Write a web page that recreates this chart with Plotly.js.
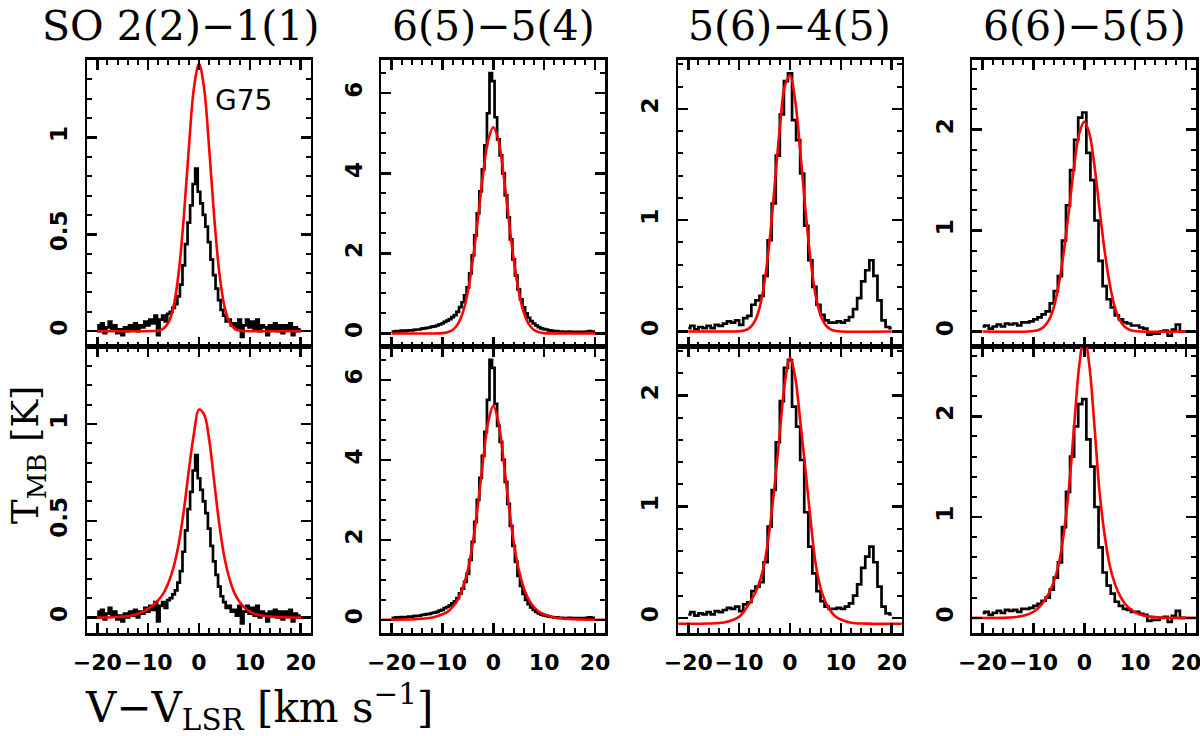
<!DOCTYPE html>
<html><head><meta charset="utf-8">
<script src="https://cdn.plot.ly/plotly-3.0.1.min.js"></script>
<style>html,body{margin:0;padding:0;background:#fff}#chart{width:1200px;height:736px}</style>
</head><body><div id="chart"></div>
<script>
// ---------------- DATA ----------------
const lineTitles = ['SO 2(2)\u22121(1)', '6(5)\u22125(4)', '5(6)\u22124(5)', '6(6)\u22125(5)'];
const sourceName = 'G75';
const xTickValues = [-20, -10, 0, 10, 20];
const xTickLabels = ['\u221220', '\u221210', '0', '10', '20'];

// observed spectra: first channel velocity, channel width, brightness values (K)
const spec1Start = -20, spec1Width = 0.5;
const spec1T = [0.03,0.00,0.04,-0.01,0.02,0.05,0.01,0.03,-0.01,0.01,
  -0.02,0.02,0.00,0.03,0.01,0.04,0.00,0.03,0.02,0.05,
  0.03,0.06,0.04,0.08,-0.02,0.06,0.08,0.05,0.09,0.10,
  0.12,0.14,0.18,0.24,0.34,0.45,0.56,0.65,0.76,0.84,
  0.72,0.66,0.60,0.54,0.46,0.37,0.29,0.22,0.16,0.11,
  0.08,0.05,0.06,0.03,0.04,0.01,0.06,-0.03,0.03,0.06,
  0.02,0.05,0.01,0.06,0.00,0.03,0.02,-0.02,0.03,0.01,
  0.04,0.00,0.03,-0.01,0.03,0.01,0.04,-0.02,0.02,0.00,0.01];

const spec2Start = -20, spec2Width = 0.5;
const spec2T = [0.05,0.04,0.06,0.05,0.07,0.06,0.07,0.08,0.08,0.09,
  0.10,0.10,0.12,0.13,0.14,0.15,0.17,0.18,0.20,0.23,
  0.25,0.29,0.32,0.36,0.41,0.46,0.54,0.66,0.78,0.95,
  1.15,1.50,1.95,2.45,3.00,3.55,4.10,4.70,5.50,6.50,
  6.30,5.40,4.85,4.45,4.00,3.45,2.90,2.35,1.85,1.45,
  1.10,0.85,0.65,0.50,0.39,0.31,0.25,0.20,0.16,0.13,
  0.11,0.10,0.08,0.07,0.06,0.06,0.05,0.05,0.04,0.04,
  0.05,0.03,0.04,0.03,0.04,0.03,0.04,0.05,0.06,0.05,0.04];

const spec3Start = -20, spec3Width = 0.8;
const spec3T = [0.03,0.05,0.02,0.04,0.03,0.05,0.03,0.06,0.05,0.07,
  0.09,0.08,0.10,0.06,0.12,0.14,0.24,0.28,0.32,0.50,
  0.82,1.15,1.58,1.95,2.25,2.32,1.90,1.72,1.42,0.95,
  0.64,0.40,0.24,0.15,0.10,0.08,0.08,0.09,0.08,0.10,
  0.13,0.20,0.30,0.45,0.55,0.64,0.50,0.28,0.10,0.04,0.03];

const spec4Start = -20, spec4Width = 0.8;
const spec4T = [0.05,0.06,0.03,0.05,0.07,0.05,0.08,0.07,0.08,0.06,
  0.09,0.09,0.10,0.12,0.14,0.17,0.20,0.28,0.40,0.55,
  0.90,1.25,1.60,1.90,2.12,2.17,1.77,1.50,1.10,0.70,
  0.45,0.32,0.24,0.16,0.12,0.09,0.08,0.06,0.06,0.04,
  0.03,-0.03,-0.02,-0.02,0.00,0.01,-0.04,0.02,0.07,0.00,0.00];

// model curves (red), top row
const fitTop1V = [-20,-12,-10,-9,-8,-7,-6,-5,-4,-3,-2,-1,0,1,2,3,4,5,6,7,8,9,10,12,20];
const fitTop1T = [0,0,0,0.001,0.003,0.013,0.045,0.128,0.301,0.586,0.943,1.255,1.38,1.255,0.943,0.586,0.301,0.128,0.045,0.013,0.003,0.001,0,0,0];
const fitTop2V = [-20,-12,-10,-9,-8,-7,-6,-5,-4,-3,-2,-1,0,1,2,3,4,5,6,7,8,9,10,12,20];
const fitTop2T = [0,0,0.009,0.03,0.087,0.227,0.52,1.05,1.86,2.9,3.99,4.83,5.15,4.83,3.99,2.9,1.86,1.05,0.52,0.227,0.087,0.03,0.009,0,0];
const fitTop3V = [-20,-11,-10,-9,-8,-7,-6,-5,-4,-3,-2,-1,0,1,2,3,4,5,6,7,8,9,10,20];
const fitTop3T = [0,0,0.002,0.009,0.03,0.085,0.21,0.45,0.82,1.32,1.83,2.21,2.30,2.08,1.63,1.11,0.66,0.335,0.15,0.057,0.019,0.005,0,0];
const fitTop4V = [-20,-11,-10,-9,-8,-7,-6,-5,-4,-3,-2,-1,0,1,2,3,4,5,6,7,8,9,10,11,20];
const fitTop4T = [0,0,0.005,0.016,0.045,0.11,0.24,0.47,0.80,1.21,1.64,1.96,2.08,1.96,1.64,1.21,0.80,0.47,0.24,0.11,0.045,0.016,0.005,0,0];

// model curves (red), bottom row
const fitBot1V = [-22,-16,-13,-11,-10,-9,-8,-7,-6,-5,-4,-3,-2,-1,0,1,2,3,4,5,6,7,8,9,10,12,15,22];
const fitBot1T = [0,0.003,0.012,0.03,0.045,0.065,0.09,0.125,0.18,0.26,0.38,0.55,0.76,0.95,1.075,1.05,0.92,0.70,0.48,0.31,0.20,0.125,0.08,0.05,0.03,0.012,0.003,0];
const fitBot2V = [-22,-15,-12,-10,-9,-8,-7,-6,-5,-4,-3,-2,-1,0,1,2,3,4,5,6,7,8,9,10,12,15,22];
const fitBot2T = [0,0.02,0.06,0.14,0.2,0.32,0.5,0.8,1.25,1.95,2.9,4.0,4.95,5.35,4.95,4.0,2.9,1.95,1.25,0.8,0.5,0.32,0.2,0.14,0.06,0.02,0];
const fitBot3V = [-22,-16,-13,-11,-10,-9,-8,-7,-6,-5,-4,-3,-2,-1,0,1,2,3,4,5,6,7,8,9,10,12,15,22];
const fitBot3T = [-0.054,-0.052,-0.042,-0.015,0.01,0.06,0.13,0.21,0.32,0.5,0.8,1.2,1.67,2.12,2.34,2.17,1.78,1.35,0.9,0.5,0.27,0.14,0.06,0.01,-0.015,-0.045,-0.053,-0.054];
const fitBot4V = [-22,-15,-12,-10,-9,-8,-7,-6,-5,-4,-3,-2,-1,0,1,2,3,4,5,6,7,8,9,10,12,15,22];
const fitBot4T = [0,0.003,0.02,0.06,0.1,0.16,0.24,0.36,0.54,0.85,1.3,1.9,2.5,2.8,2.5,1.9,1.25,0.82,0.52,0.34,0.22,0.14,0.09,0.055,0.02,0.004,0];

// axis settings per column
const yRanges = [[-0.08,1.40],[-0.33,6.83],[-0.137,2.44],[-0.15,2.69]];
const yMajor = [0.5, 2, 1, 1];
const yMinor = [0.1, 0.5, 0.2, 0.2];
const xTickMinor = 2;

// ---------------- BUILD ----------------
function channels(start, width, n) { const v = []; for (let i = 0; i < n; i++) v.push(+(start + i * width).toFixed(3)); return v; }
const specs = [
  {v: channels(spec1Start, spec1Width, spec1T.length), t: spec1T},
  {v: channels(spec2Start, spec2Width, spec2T.length), t: spec2T},
  {v: channels(spec3Start, spec3Width, spec3T.length), t: spec3T},
  {v: channels(spec4Start, spec4Width, spec4T.length), t: spec4T}
];
const fits = [
  [[fitTop1V,fitTop1T],[fitTop2V,fitTop2T],[fitTop3V,fitTop3T],[fitTop4V,fitTop4T]],
  [[fitBot1V,fitBot1T],[fitBot2V,fitBot2T],[fitBot3V,fitBot3T],[fitBot4V,fitBot4T]]
];

const W = 1200, H = 736;
const zeroPx = [199, 493.3, 790, 1084.3];
const pxPerKms = 5.085;
const rowTop = [60, 346.7], rowBot = [346.7, 633];

const traces = [];
const layout = {
  width: W, height: H, margin: {l:0, r:0, t:0, b:0},
  paper_bgcolor: '#fff', plot_bgcolor: '#fff', showlegend: false,
  annotations: []
};
const tickFontX = {family: 'DejaVu Sans', size: 22, weight: 700, color: '#000'};
const tickFontY = {family: 'DejaVu Sans', size: 23, weight: 700, color: '#000'};

for (let row = 0; row < 2; row++) {
  for (let col = 0; col < 4; col++) {
    const id = row * 4 + col + 1;
    const xs = id === 1 ? 'x' : 'x' + id, ys = id === 1 ? 'y' : 'y' + id;
    traces.push({x: specs[col].v, y: specs[col].t, xaxis: xs, yaxis: ys, type: 'scatter', mode: 'lines',
      line: {color: '#000', width: 2.7, shape: 'hvh'}, hoverinfo: 'skip'});
    traces.push({x: fits[row][col][0], y: fits[row][col][1], xaxis: xs, yaxis: ys, type: 'scatter', mode: 'lines',
      line: {color: '#ff0000', width: 2.6, shape: 'spline', smoothing: 1}, hoverinfo: 'skip'});
    const xl = zeroPx[col] - 22 * pxPerKms, xr = zeroPx[col] + 22 * pxPerKms;
    layout['xaxis' + (id === 1 ? '' : id)] = {
      domain: [xl / W, xr / W], range: [-22, 22], anchor: ys,
      showline: true, mirror: 'allticks', linewidth: 2.6, linecolor: '#000',
      ticks: 'inside', ticklen: 10, tickwidth: 2.5, tickcolor: '#000',
      tickmode: 'array', tickvals: xTickValues, ticktext: xTickLabels, tickangle: 0,
      ticklabeloverflow: 'allow',
      minor: {dtick: xTickMinor, tick0: 0, ticks: 'inside', ticklen: 5, tickwidth: 2, tickcolor: '#000'},
      showgrid: false, zeroline: false, showticklabels: row === 1, tickfont: tickFontX,
      ticklabelstandoff: 8, fixedrange: true
    };
    layout['yaxis' + (id === 1 ? '' : id)] = {
      domain: [(H - rowBot[row]) / H, (H - rowTop[row]) / H], range: yRanges[col], anchor: xs,
      showline: true, mirror: 'allticks', linewidth: 2.6, linecolor: '#000',
      ticks: 'inside', ticklen: 10, tickwidth: 2.5, tickcolor: '#000', tick0: 0, dtick: yMajor[col],
      minor: {dtick: yMinor[col], tick0: 0, ticks: 'inside', ticklen: 5, tickwidth: 2, tickcolor: '#000'},
      showgrid: false, zeroline: false, tickangle: -90, tickfont: tickFontY,
      ticklabelstandoff: 8, fixedrange: true
    };
  }
}

const titleCenters = [180, 493, 789, 1084];
const serif = {family: 'DejaVu Serif', size: 41, color: '#000'};
for (let c = 0; c < 4; c++) {
  layout.annotations.push({text: lineTitles[c], xref: 'paper', yref: 'paper', x: titleCenters[c] / W, y: (H - 26) / H,
    xanchor: 'center', yanchor: 'middle', showarrow: false, font: serif});
}
layout.annotations.push({text: sourceName, xref: 'paper', yref: 'paper', x: 213 / W, y: (H - 101) / H,
  xanchor: 'left', yanchor: 'middle', showarrow: false, font: {family: 'DejaVu Sans', size: 28, color: '#000'}});
layout.annotations.push({text: 'T<sub>MB</sub> [K]', xref: 'paper', yref: 'paper', x: 28 / W, y: (H - 455) / H,
  xanchor: 'center', yanchor: 'middle', textangle: -90, showarrow: false, font: {family: 'DejaVu Serif', size: 37, color: '#000'}});
layout.annotations.push({text: 'V\u2212V<sub>LSR</sub> [km s<sup>\u22121</sup>]', xref: 'paper', yref: 'paper', x: 83 / W, y: (H - 707) / H,
  xanchor: 'left', yanchor: 'middle', showarrow: false, font: {family: 'DejaVu Serif', size: 42, color: '#000'}});

Plotly.newPlot('chart', traces, layout, {staticPlot: true, displayModeBar: false});
</script></body></html>
